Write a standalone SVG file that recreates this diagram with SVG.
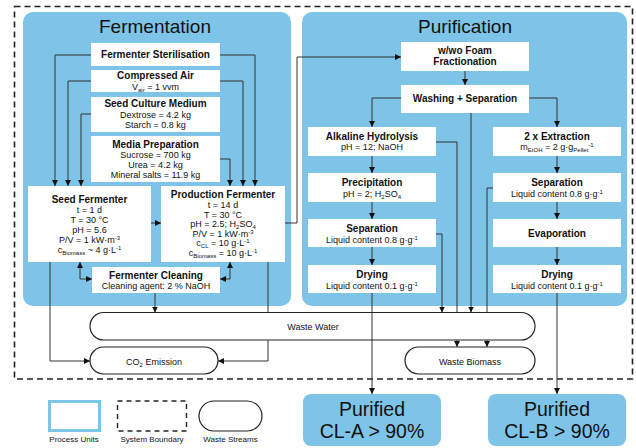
<svg xmlns="http://www.w3.org/2000/svg" width="636" height="448" viewBox="0 0 636 448">
<defs>
<style>
text{font-family:"Liberation Sans",Arial,sans-serif;fill:#111;text-anchor:middle}
.h{font-size:19px}
.t{font-size:10px;font-weight:bold}
.s{font-size:9px}
.w{font-size:9px}
.lg{font-size:8px}
.p{font-size:19.5px}
.sb{font-size:6px}
.panel{fill:#7dc4e8}
.box{fill:#fff}
.pill{fill:#fff;stroke:#222;stroke-width:1.2}
.ln{fill:none;stroke:#333;stroke-width:1}
.bd{fill:none;stroke:#222;stroke-width:1.6;stroke-dasharray:6 4}
</style>
<marker id="a" viewBox="0 0 6 6" refX="6" refY="3" markerWidth="6" markerHeight="6" markerUnits="userSpaceOnUse" orient="auto-start-reverse">
<path d="M0,0 L6,3 L0,6 Z" fill="#111"/>
</marker>
</defs>
<rect width="636" height="448" fill="#fff"/>
<rect class="bd" x="14.5" y="6.5" width="618" height="372.5"/>
<g id="fermentation-panel">
<rect class="panel" x="23" y="12" width="268" height="294" rx="10"/>
<text class="h" x="155" y="33">Fermentation</text>
</g>
<g id="purification-panel">
<rect class="panel" x="302" y="12" width="325" height="294" rx="10"/>
<text class="h" x="465" y="33">Purification</text>
</g>
<g id="sterilisation"><rect class="box" x="91" y="43" width="129" height="23"/><text class="t" x="155.5" y="58">Fermenter Sterilisation</text></g>
<g id="air"><rect class="box" x="91" y="70" width="129" height="22"/><text class="t" x="155.5" y="79">Compressed Air</text><text class="s" x="155.5" y="89.5">V̇<tspan class="sb" dy="2">air</tspan><tspan dy="-2"> = 1 vvm</tspan></text></g>
<g id="seed-medium"><rect class="box" x="91" y="97" width="129" height="35"/><text class="t" x="155.5" y="107">Seed Culture Medium</text><text class="s" x="155.5" y="117.5">Dextrose = 4.2 kg</text><text class="s" x="155.5" y="127.5">Starch = 0.8 kg</text></g>
<g id="media-prep"><rect class="box" x="91" y="136" width="129" height="46"/><text class="t" x="155.5" y="147.5">Media Preparation</text><text class="s" x="155.5" y="157.5">Sucrose = 700 kg</text><text class="s" x="155.5" y="167.5">Urea =  4.2 kg</text><text class="s" x="155.5" y="177.5">Mineral salts = 11.9 kg</text></g>
<g id="seed-fermenter"><rect class="box" x="28" y="186" width="123" height="76"/>
<text class="t" x="89.5" y="203">Seed Fermenter</text>
<text class="s" x="89.5" y="213">t = 1 d</text>
<text class="s" x="89.5" y="222.5">T = 30 °C</text>
<text class="s" x="89.5" y="232.5">pH = 5.6</text>
<text class="s" x="89.5" y="242.5">P/V = 1 kW·m<tspan class="sb" dy="-3">-3</tspan></text>
<text class="s" x="89.5" y="252.5">c<tspan class="sb" dy="2">Biomass</tspan><tspan dy="-2"> ~ 4 g·L</tspan><tspan class="sb" dy="-3">-1</tspan></text>
</g>
<g id="production-fermenter"><rect class="box" x="161" y="186" width="124" height="76"/>
<text class="t" x="223" y="198">Production Fermenter</text>
<text class="s" x="223" y="208">t = 14 d</text>
<text class="s" x="223" y="217.5">T = 30 °C</text>
<text class="s" x="223" y="227">pH = 2.5; H<tspan class="sb" dy="2">2</tspan><tspan dy="-2">SO</tspan><tspan class="sb" dy="2">4</tspan></text>
<text class="s" x="223" y="236.5">P/V = 1 kW·m<tspan class="sb" dy="-3">-3</tspan></text>
<text class="s" x="223" y="246">c<tspan class="sb" dy="2">CL</tspan><tspan dy="-2"> = 10 g·L</tspan><tspan class="sb" dy="-3">-1</tspan></text>
<text class="s" x="223" y="256">c<tspan class="sb" dy="2">Biomass</tspan><tspan dy="-2"> = 10 g·L</tspan><tspan class="sb" dy="-3">-1</tspan></text>
</g>
<g id="cleaning"><rect class="box" x="92" y="267" width="128" height="26"/><text class="t" x="156" y="278.5">Fermenter Cleaning</text><text class="s" x="156" y="289">Cleaning agent: 2 % NaOH</text></g>
<g id="foam"><rect class="box" x="401" y="42" width="128" height="29"/><text class="t" x="465" y="54">w/wo Foam</text><text class="t" x="465" y="65">Fractionation</text></g>
<g id="washing"><rect class="box" x="401" y="85" width="128" height="28"/><text class="t" x="465" y="102">Washing + Separation</text></g>
<g id="alkaline"><rect class="box" x="308" y="127" width="128" height="29"/><text class="t" x="372" y="139.5">Alkaline Hydrolysis</text><text class="s" x="372" y="150">pH = 12;  NaOH</text></g>
<g id="extraction"><rect class="box" x="493" y="127" width="128" height="29"/><text class="t" x="557" y="139.5">2 x Extraction</text><text class="s" x="557" y="150">m<tspan class="sb" dy="2">EtOH</tspan><tspan dy="-2"> = 2 g·g</tspan><tspan class="sb" dy="2">Pellet</tspan><tspan class="sb" dy="-5">-1</tspan></text></g>
<g id="precipitation"><rect class="box" x="308" y="173" width="128" height="29"/><text class="t" x="372" y="186">Precipitation</text><text class="s" x="372" y="196.5">pH = 2; H<tspan class="sb" dy="2">2</tspan><tspan dy="-2">SO</tspan><tspan class="sb" dy="2">4</tspan></text></g>
<g id="separation-b"><rect class="box" x="493" y="173" width="128" height="29"/><text class="t" x="557" y="186">Separation</text><text class="s" x="557" y="196.5">Liquid content 0.8 g·g<tspan class="sb" dy="-3">-1</tspan></text></g>
<g id="separation-a"><rect class="box" x="308" y="219" width="128" height="28"/><text class="t" x="372" y="232">Separation</text><text class="s" x="372" y="242.5">Liquid content 0.8 g·g<tspan class="sb" dy="-3">-1</tspan></text></g>
<g id="evaporation"><rect class="box" x="493" y="219" width="128" height="28"/><text class="t" x="557" y="236.5">Evaporation</text></g>
<g id="drying-a"><rect class="box" x="308" y="265" width="128" height="28"/><text class="t" x="372" y="278">Drying</text><text class="s" x="372" y="288.5">Liquid content 0.1 g·g<tspan class="sb" dy="-3">-1</tspan></text></g>
<g id="drying-b"><rect class="box" x="493" y="265" width="128" height="28"/><text class="t" x="557" y="278">Drying</text><text class="s" x="557" y="288.5">Liquid content 0.1 g·g<tspan class="sb" dy="-3">-1</tspan></text></g>
<g id="waste-water"><rect class="pill" x="90" y="312.5" width="445" height="27.5" rx="13.75"/><text class="w" x="313" y="330">Waste Water</text></g>
<g id="co2"><rect class="pill" x="90" y="347" width="128" height="27" rx="13.5"/><text class="w" x="154" y="364.5">CO<tspan class="sb" dy="2">2</tspan><tspan dy="-2"> Emission</tspan></text></g>
<g id="waste-biomass"><rect class="pill" x="405" y="347" width="130" height="27" rx="13.5"/><text class="w" x="470" y="364.5">Waste Biomass</text></g>
<g id="product-a"><rect class="panel" x="303" y="394" width="138" height="52" rx="8"/><text class="p" x="372" y="416">Purified</text><text class="p" x="372" y="438">CL-A &gt; 90%</text></g>
<g id="product-b"><rect class="panel" x="488" y="394" width="138" height="52" rx="8"/><text class="p" x="557" y="416">Purified</text><text class="p" x="557" y="438">CL-B &gt; 90%</text></g>
<g id="legend">
<rect x="49.5" y="401.5" width="50" height="29" fill="#fff" stroke="#7dc4e8" stroke-width="3"/>
<text class="lg" x="74" y="442">Process Units</text>
<rect x="117.5" y="401" width="69" height="30" fill="none" stroke="#222" stroke-width="1.4" stroke-dasharray="5 4"/>
<text class="lg" x="152" y="442">System Boundary</text>
<rect class="pill" x="199" y="401" width="63" height="30" rx="15"/>
<text class="lg" x="230.5" y="442">Waste Streams</text>
</g>
<g id="connectors" class="ln">
<path class="ln" d="M91,55 H55 V186" marker-end="url(#a)"/>
<path class="ln" d="M220,55 H255 V186" marker-end="url(#a)"/>
<path class="ln" d="M91,81 H68 V186" marker-end="url(#a)"/>
<path class="ln" d="M220,81 H243 V186" marker-end="url(#a)"/>
<path class="ln" d="M91,114 H81 V186" marker-end="url(#a)"/>
<path class="ln" d="M220,159 H230 V186" marker-end="url(#a)"/>
<path class="ln" d="M151,223 H161" marker-end="url(#a)"/>
<path class="ln" d="M80,262 V279 H92" marker-start="url(#a)" marker-end="url(#a)"/>
<path class="ln" d="M230,262 V279 H220" marker-start="url(#a)" marker-end="url(#a)"/>
<path class="ln" d="M155,293 V312.5" marker-end="url(#a)"/>
<path class="ln" d="M50,262 V361 H90" marker-end="url(#a)"/>
<path class="ln" d="M268,262 V312.5 M268,340 V361 H218" marker-end="url(#a)"/>
<path class="ln" d="M285,223 H297 V57 H401" marker-end="url(#a)"/>
<path class="ln" d="M465,71 V85" marker-end="url(#a)"/>
<path class="ln" d="M401,98 H372 V127" marker-end="url(#a)"/>
<path class="ln" d="M529,98 H557 V127" marker-end="url(#a)"/>
<path class="ln" d="M372,156 V173" marker-end="url(#a)"/>
<path class="ln" d="M372,202 V219" marker-end="url(#a)"/>
<path class="ln" d="M372,247 V265" marker-end="url(#a)"/>
<path class="ln" d="M557,156 V173" marker-end="url(#a)"/>
<path class="ln" d="M557,202 V219" marker-end="url(#a)"/>
<path class="ln" d="M557,247 V265" marker-end="url(#a)"/>
<path class="ln" d="M372,293 V394" marker-end="url(#a)"/>
<path class="ln" d="M557,293 V394" marker-end="url(#a)"/>
<path class="ln" d="M436,142 H457 V312.5 M457,340 V347" marker-end="url(#a)"/>
<path class="ln" d="M471,113 V312.5" marker-end="url(#a)"/>
<path class="ln" d="M493,188 H487 V312.5 M487,340 V347" marker-end="url(#a)"/>
<path class="ln" d="M436,234 H442 V312.5" marker-end="url(#a)"/>
</g>
</svg>
